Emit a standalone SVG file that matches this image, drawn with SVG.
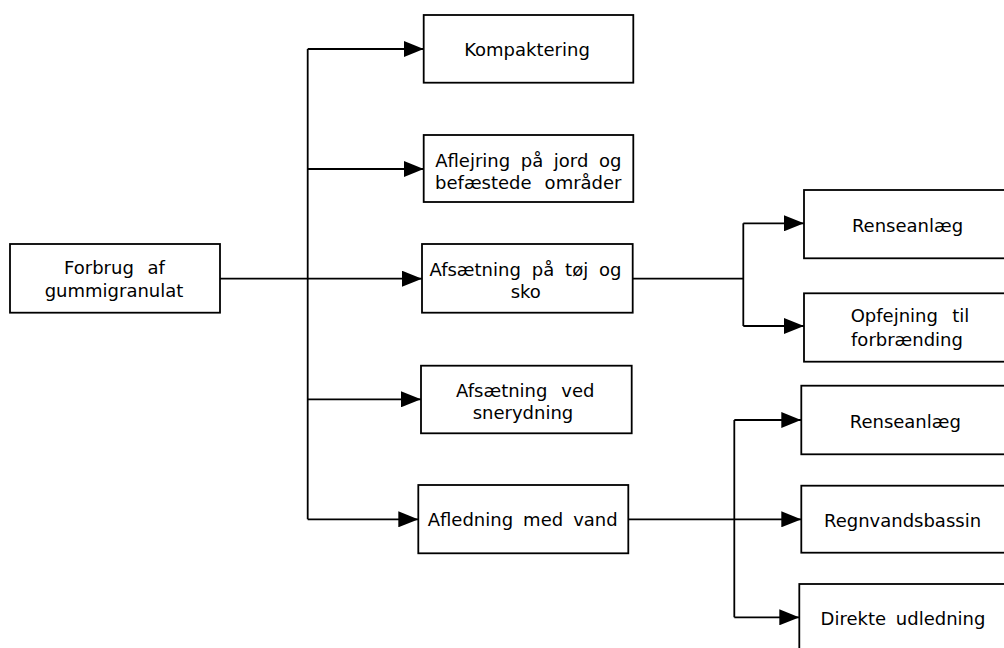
<svg xmlns="http://www.w3.org/2000/svg" width="1004" height="648" viewBox="0 0 1004 648">
<style>
.box{fill:#fff;stroke:#000;stroke-width:1.8}
.lbl{font-family:"DejaVu Sans",Verdana,sans-serif;font-size:18px;fill:#000;text-anchor:middle}
.ln{fill:none;stroke:#000;stroke-width:1.8}
</style>
<defs>
<marker id="arr" markerUnits="userSpaceOnUse" markerWidth="20" markerHeight="16" refX="20" refY="8" orient="auto">
<path d="M0,0 L20,8 L0,16 Z" fill="#000"/>
</marker>
</defs>
<rect width="1004" height="648" fill="#fff"/>
<g id="connectors">
<path class="ln" d="M220,278.7 H422" marker-end="url(#arr)"/>
<path class="ln" d="M307.7,49 V519.3"/>
<path class="ln" d="M307.7,49 H423.7" marker-end="url(#arr)"/>
<path class="ln" d="M307.7,169 H423.7" marker-end="url(#arr)"/>
<path class="ln" d="M307.7,399.3 H421" marker-end="url(#arr)"/>
<path class="ln" d="M307.7,519.3 H418.3" marker-end="url(#arr)"/>
<path class="ln" d="M632.7,278.7 H743.3"/>
<path class="ln" d="M743.3,223.3 V326"/>
<path class="ln" d="M743.3,223.3 H804" marker-end="url(#arr)"/>
<path class="ln" d="M743.3,326 H804" marker-end="url(#arr)"/>
<path class="ln" d="M628.3,519.3 H801.3" marker-end="url(#arr)"/>
<path class="ln" d="M734.3,420 V617.3"/>
<path class="ln" d="M734.3,420 H801.3" marker-end="url(#arr)"/>
<path class="ln" d="M734.3,617.3 H799.3" marker-end="url(#arr)"/>
</g>
<g id="forbrug">
<rect class="box" x="10" y="244" width="210" height="68.7"/>
<text class="lbl" x="114.5" y="274" word-spacing="8">Forbrug af</text>
<text class="lbl" x="114" y="296.5">gummigranulat</text>
</g>
<g id="kompaktering">
<rect class="box" x="423.7" y="15" width="209.6" height="67.7"/>
<text class="lbl" x="527" y="56">Kompaktering</text>
</g>
<g id="aflejring">
<rect class="box" x="423.7" y="135" width="209.6" height="67"/>
<text class="lbl" x="528.3" y="166.5" word-spacing="4.9">Aflejring på jord og</text>
<text class="lbl" x="528.3" y="188.5" word-spacing="7.3">befæstede områder</text>
</g>
<g id="afsaetning-toj">
<rect class="box" x="422" y="244" width="210.7" height="68.7"/>
<text class="lbl" x="525.5" y="276" word-spacing="5.2">Afsætning på tøj og</text>
<text class="lbl" x="525.8" y="298.3">sko</text>
</g>
<g id="afsaetning-sne">
<rect class="box" x="421" y="365.7" width="210.7" height="67.6"/>
<text class="lbl" x="525.3" y="397" word-spacing="8.2">Afsætning ved</text>
<text class="lbl" x="523" y="419.3">snerydning</text>
</g>
<g id="afledning">
<rect class="box" x="418.3" y="485" width="210" height="68.3"/>
<text class="lbl" x="522.7" y="526" word-spacing="4.3">Afledning med vand</text>
</g>
<g id="renseanlaeg1">
<rect class="box" x="804" y="190" width="220" height="68.3"/>
<text class="lbl" x="907.5" y="231.5">Renseanlæg</text>
</g>
<g id="opfejning">
<rect class="box" x="804" y="293.3" width="220" height="68.4"/>
<text class="lbl" x="910" y="321.7" word-spacing="8.7">Opfejning til</text>
<text class="lbl" x="907" y="345.7">forbrænding</text>
</g>
<g id="renseanlaeg2">
<rect class="box" x="801.3" y="385.7" width="220" height="68.6"/>
<text class="lbl" x="905.3" y="427.5">Renseanlæg</text>
</g>
<g id="regnvandsbassin">
<rect class="box" x="801.3" y="485.7" width="220" height="67"/>
<text class="lbl" x="902.5" y="526.5">Regnvandsbassin</text>
</g>
<g id="direkte">
<rect class="box" x="799.3" y="584" width="220" height="70"/>
<text class="lbl" x="903" y="625" word-spacing="4">Direkte udledning</text>
</g>
</svg>
